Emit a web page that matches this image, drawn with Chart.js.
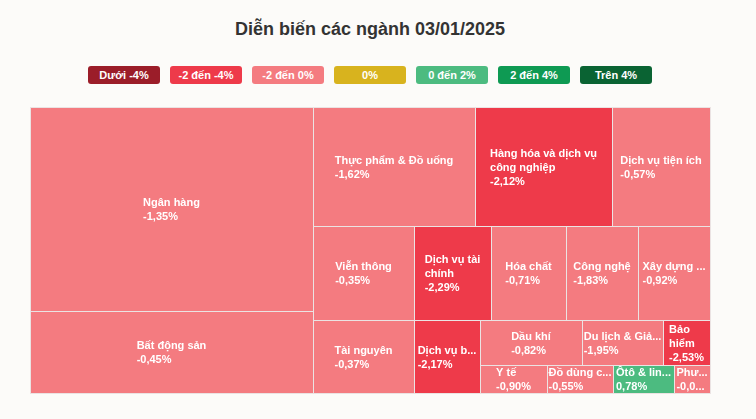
<!DOCTYPE html>
<html lang="vi">
<head>
<meta charset="utf-8">
<title>Diễn biến các ngành 03/01/2025</title>
<script src="https://cdn.jsdelivr.net/npm/chart.js@4.4.1/dist/chart.umd.min.js"></script>
<style>
    html, body { margin: 0; padding: 0; background: #fcfbf9; }
    body { width: 756px; height: 419px; position: relative; overflow: hidden; font-family: "Liberation Sans", Arial, sans-serif; }
    h1 { position: absolute; top: 18px; left: 0; width: 740px; margin: 0; text-align: center; font-size: 18px; line-height: 22px; font-weight: bold; color: #333333; }
    #legend { position: absolute; top: 66px; left: 0; width: 740px; display: flex; justify-content: center; gap: 10px; }
    .chip { width: 72px; height: 18px; line-height: 18px; border-radius: 3px; color: #ffffff; font-size: 11px; font-weight: bold; text-align: center; }
    #chartBox { position: absolute; left: 0; top: 100px; width: 756px; height: 319px; }
</style>
</head>
<body>
<h1>Diễn biến các ngành 03/01/2025</h1>
<div id="legend"></div>
<div id="chartBox"><canvas id="sectorChart"></canvas></div>

<script>
// Sectors, sorted by weight (share of market cap, %)
const sectors = [
    'Ngân hàng', 'Bất động sản', 'Thực phẩm & Đồ uống', 'Hàng hóa và dịch vụ công nghiệp',
    'Dịch vụ tiện ích', 'Viễn thông', 'Tài nguyên', 'Dịch vụ tài chính', 'Hóa chất',
    'Công nghệ', 'Xây dựng ...', 'Dịch vụ b...', 'Dầu khí', 'Du lịch & Giả...', 'Bảo hiểm',
    'Y tế', 'Đồ dùng c...', 'Ôtô & lin...', 'Phư...'
];
const weights = [29.69, 11.93, 9.91, 8.38, 6.00, 4.83, 3.79, 3.72, 3.63, 3.48, 3.47, 2.48, 2.36, 1.87, 1.09, 0.96, 0.95, 0.88, 0.52];
const changes = [-1.35, -0.45, -1.62, -2.12, -0.57, -0.35, -0.37, -2.29, -0.71, -1.83, -0.92, -2.17, -0.82, -1.95, -2.53, -0.90, -0.55, 0.78, -0.05];

// Colour bands
const bandLabels = ['Dưới -4%', '-2 đến -4%', '-2 đến 0%', '0%', '0 đến 2%', '2 đến 4%', 'Trên 4%'];
const bandColors = ['#9b1d29', '#ee3a4a', '#f47b80', '#d8b31e', '#4cbb80', '#0e9a53', '#0a6333'];

function bandColor(v) {
    if (v < -4) return bandColors[0];
    if (v <= -2) return bandColors[1];
    if (v < 0) return bandColors[2];
    if (v === 0) return bandColors[3];
    if (v < 2) return bandColors[4];
    if (v < 4) return bandColors[5];
    return bandColors[6];
}

document.getElementById('legend').innerHTML = bandLabels
    .map((t, i) => `<div class="chip" style="background:${bandColors[i]}">${t}</div>`)
    .join('');

// Squarified layout with alternating strips (column, row, column, ...)
function layoutTreemap(values, width, height) {
    const total = values.reduce((s, v) => s + v, 0);
    const cells = [];
    const free = { x: 0, y: 0, w: width, h: height };
    let vertical = true;
    let strip = [];

    const stripSum = () => strip.reduce((s, d) => s + d.area, 0);
    const aspect = (a, b) => Math.max(a / b, b / a);
    function ratioIn(area, stripTotal) {
        if (vertical) {
            const sw = stripTotal / free.h;
            return aspect(sw, area / sw);
        }
        const sh = stripTotal / free.w;
        return aspect(area / sh, sh);
    }
    function placeStrip() {
        const t = stripSum();
        if (vertical) {
            const sw = t / free.h;
            let y = free.y;
            strip.forEach(d => { cells[d.i] = { x: free.x, y, w: sw, h: d.area / sw }; y += d.area / sw; });
            free.x += sw; free.w -= sw;
        } else {
            const sh = t / free.w;
            let x = free.x;
            strip.forEach(d => { cells[d.i] = { x, y: free.y, w: d.area / sh, h: sh }; x += d.area / sh; });
            free.y += sh; free.h -= sh;
        }
        vertical = !vertical;
        strip = [];
    }

    values.forEach((v, i) => {
        const area = v / total * width * height;
        if (strip.length) {
            const last = strip[strip.length - 1].area;
            const t = stripSum();
            if (ratioIn(last, t + area) > ratioIn(last, t)) placeStrip();
        }
        strip.push({ i, area });
    });
    placeStrip();
    return cells;
}

function fmtPct(v) {
    return v.toFixed(2).replace('.', ',') + '%';
}

function fitText(ctx, text, maxW) {
    if (ctx.measureText(text).width <= maxW) return text;
    let s = text;
    while (s.length > 1 && ctx.measureText(s + '...').width > maxW) s = s.slice(0, -1);
    return s + '...';
}

function wrapName(ctx, name, cellW) {
    if (ctx.measureText(name).width <= cellW - 2) return [name];
    const lines = [];
    let cur = '';
    name.split(' ').forEach(word => {
        const test = cur ? cur + ' ' + word : word;
        if (cur && ctx.measureText(test).width > cellW - 10) {
            lines.push(cur);
            cur = word;
        } else {
            cur = test;
        }
    });
    if (cur) lines.push(cur);
    return lines.map(l => fitText(ctx, l, cellW - 2));
}

const treemapCells = {
    id: 'treemapCells',
    beforeDatasetsDraw(chart) {
        const { ctx, chartArea, scales: { x, y } } = chart;
        const ratio = chartArea.width / chartArea.height;
        const cells = layoutTreemap(weights, 100 * ratio, 100);

        ctx.save();
        cells.forEach((c, i) => {
            const L = Math.round(x.getPixelForValue(c.x / ratio));
            const R = Math.round(x.getPixelForValue((c.x + c.w) / ratio));
            const T = Math.round(y.getPixelForValue(c.y));
            const B = Math.round(y.getPixelForValue(c.y + c.h));

            ctx.fillStyle = bandColor(changes[i]);
            ctx.fillRect(L, T, R - L, B - T);
            ctx.strokeStyle = '#ebe3e3';
            ctx.lineWidth = 1;
            ctx.strokeRect(L + 0.5, T + 0.5, R - L, B - T);

            // label
            ctx.font = 'bold 11px "Liberation Sans", Arial, sans-serif';
            const w = R - L;
            const lines = wrapName(ctx, sectors[i], w);
            lines.push(fitText(ctx, fmtPct(changes[i]), w - 2));
            const blockW = Math.max(...lines.map(l => ctx.measureText(l).width));
            const lh = 14;
            const top = (T + B) / 2 - lines.length * lh / 2;
            const left = (L + R) / 2 - blockW / 2;
            ctx.fillStyle = '#ffffff';
            ctx.textAlign = 'left';
            ctx.textBaseline = 'middle';
            lines.forEach((l, k) => ctx.fillText(l, left, top + k * lh + lh / 2 + 1));
        });
        ctx.restore();
    }
};

Chart.defaults.font.family = '"Liberation Sans", Arial, sans-serif';

new Chart(document.getElementById('sectorChart'), {
    type: 'scatter',
    data: { datasets: [{ label: 'Tỷ trọng', data: [] }] },
    options: {
        responsive: true,
        maintainAspectRatio: false,
        animation: false,
        layout: { padding: { left: 30, right: 46, top: 7, bottom: 26 } },
        plugins: { legend: { display: false }, tooltip: { enabled: false } },
        scales: {
            x: { type: 'linear', min: 0, max: 100, display: false },
            y: { type: 'linear', min: 0, max: 100, reverse: true, display: false }
        }
    },
    plugins: [treemapCells]
});
</script>
</body>
</html>
